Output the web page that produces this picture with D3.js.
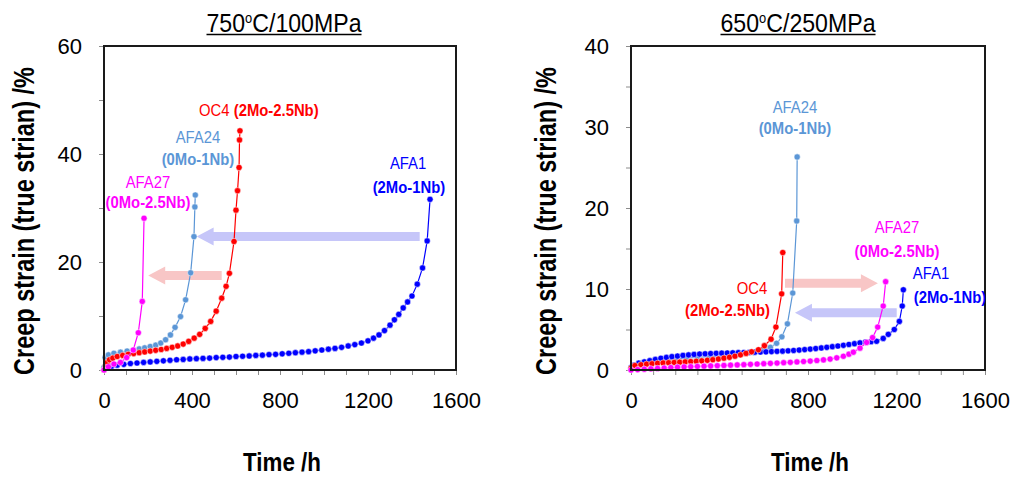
<!DOCTYPE html>
<html>
<head>
<meta charset="utf-8">
<script src="https://cdn.jsdelivr.net/npm/d3@7"></script>
<style>
  body { margin: 0; background: #fff; }
  text { font-family: "Liberation Sans", Arial, sans-serif; }
</style>
</head>
<body>
<svg width="1015" height="479"></svg>
<script>
// tick labels
const timeTicks = [0, 400, 800, 1200, 1600];
const strainTicks750 = [0, 20, 40, 60];
const strainTicks650 = [0, 10, 20, 30, 40];

// ---- 750C / 100MPa (time h, strain %) ----
const t750_AFA1 = [0,15,35,60,90,120,150,180,210,240,270,300,330,360,390,420,450,480,510,540,570,600,630,660,690,720,750,780,810,840,870,900,930,960,990,1020,1050,1080,1110,1140,1170,1200,1225,1250,1275,1300,1320,1340,1360,1380,1400,1424,1448,1469,1482];
const e750_AFA1 = [0.1,0.4,0.7,0.9,1.05,1.2,1.3,1.4,1.5,1.6,1.7,1.8,1.9,1.95,2.05,2.1,2.15,2.2,2.3,2.35,2.4,2.5,2.55,2.6,2.7,2.75,2.85,2.9,3.0,3.1,3.2,3.3,3.4,3.55,3.7,3.85,4.0,4.2,4.45,4.7,5.0,5.4,5.9,6.5,7.3,8.3,9.3,10.3,11.5,12.6,13.7,15.9,18.9,23.9,31.6];

const t750_OC4 = [0,8,15,25,40,60,85,110,135,160,185,210,235,260,285,310,335,360,385,410,435,460,485,510,535,555,570,591,600,607,614,616,618];
const e750_OC4 = [0,0.8,1.4,1.9,2.2,2.5,2.7,2.9,3.05,3.2,3.35,3.5,3.65,3.8,4.0,4.2,4.45,4.8,5.3,5.9,6.6,7.7,9.0,10.9,13.3,15.5,17.9,23.8,29.6,33.2,37.5,42.6,44.3];

const t750_AFA24 = [0,5,20,45,75,105,135,160,185,210,235,258,280,302,323,348,371,394,409,413,415];
const e750_AFA24 = [0.5,2.3,2.8,3.1,3.3,3.5,3.7,3.9,4.1,4.35,4.6,5.0,5.6,6.5,7.9,9.9,13.0,18.0,24.7,30.2,32.4];

const t750_AFA27 = [0,20,45,75,103,133,156,174,182];
const e750_AFA27 = [0,0.6,1.1,1.4,2.3,3.7,6.9,12.7,28.1];

// ---- 650C / 250MPa ----
const t650_AFA1 = [0,15,35,60,85,110,135,160,185,210,235,260,285,310,335,360,385,410,435,460,485,510,535,560,585,610,635,660,685,710,735,760,785,810,835,860,885,910,935,960,985,1010,1035,1060,1085,1110,1140,1163,1190,1213,1226,1231];
const e650_AFA1 = [0.3,0.6,0.85,1.0,1.15,1.3,1.45,1.55,1.65,1.72,1.8,1.86,1.92,1.97,2.0,2.03,2.06,2.08,2.1,2.12,2.14,2.16,2.18,2.2,2.22,2.24,2.27,2.3,2.33,2.37,2.41,2.46,2.52,2.58,2.65,2.72,2.8,2.88,2.96,3.05,3.15,3.25,3.35,3.45,3.5,3.55,3.9,4.4,5.0,6.0,7.9,9.9];

const t650_OC4 = [0,18,45,70,95,120,145,170,195,220,245,270,295,320,345,370,395,420,445,470,495,520,545,576,603,633,655,681,686];
const e650_OC4 = [0.2,0.55,0.65,0.72,0.78,0.83,0.87,0.9,0.93,0.96,1.0,1.04,1.08,1.13,1.2,1.27,1.36,1.46,1.57,1.7,1.87,2.05,2.25,2.5,3.0,3.8,5.3,9.4,14.5];

const t650_AFA24 = [0,30,60,100,150,200,250,300,350,400,450,500,550,600,630,658,682,707,731,749,751];
const e650_AFA24 = [0.1,0.5,0.8,1.0,1.2,1.35,1.45,1.55,1.65,1.75,1.85,2.0,2.2,2.5,2.8,3.3,4.1,5.7,9.5,18.4,26.3];

const t650_AFA27 = [0,30,60,90,120,150,180,210,240,270,300,330,360,390,420,450,480,510,540,570,600,630,660,690,720,750,780,810,840,870,900,930,960,985,1005,1035,1065,1092,1115,1140,1151];
const e650_AFA27 = [0,0.05,0.1,0.15,0.2,0.25,0.3,0.35,0.38,0.41,0.44,0.47,0.5,0.53,0.56,0.6,0.63,0.66,0.7,0.74,0.78,0.82,0.86,0.9,0.95,1.0,1.05,1.1,1.17,1.25,1.35,1.5,1.7,1.95,2.2,2.7,3.4,4.0,5.3,7.9,10.9];

const colors = { AFA1: "#0000ff", OC4: "#ff0000", AFA24: "#5b96d6", AFA27: "#ff00ff" };
const arrowBlue = "#c6c6f9", arrowPink = "#f8c6c6";

const zip = (t, e) => t.map((d, i) => [d, e[i]]);

const svg = d3.select("svg");

function drawPanel(p) {
  const x = d3.scaleLinear().domain([0, 1600]).range([p.left, p.right]);
  const y = d3.scaleLinear().domain([0, p.ymax]).range([370, 46]);
  const g = svg.append("g");

  // axes
  const xAxis = g.append("g")
    .attr("transform", "translate(0,370)")
    .call(d3.axisBottom(x).tickValues(d3.range(0, 1601, 100))
      .tickFormat(d => timeTicks.includes(d) ? d : "")
      .tickSize(5).tickPadding(17));
  const yAxis = g.append("g")
    .attr("transform", `translate(${p.left},0)`)
    .call(d3.axisLeft(y).tickValues(d3.range(0, p.ymax + 1, p.minor))
      .tickFormat(d => p.ticks.includes(d) ? d : "")
      .tickSize(5).tickPadding(17));
  [xAxis, yAxis].forEach(a => {
    a.select(".domain").remove();
    a.selectAll(".tick line").attr("stroke", "#8c8c8c");
    a.selectAll(".tick text").attr("font-size", 22).attr("fill", "#000")
      .style("font-family", "'Liberation Sans', Arial, sans-serif");
  });

  // arrows (behind the curves)
  p.arrows.forEach(a => {
    const x0 = x(a.from), x1 = x(a.to), yy = y(a.s);
    const dir = Math.sign(x1 - x0), hl = 17, sh = 4.5, hh = 9;
    const xb = x1 - dir * hl;
    g.append("polygon")
      .attr("points", [[x0, yy - sh], [xb, yy - sh], [xb, yy - hh], [x1, yy], [xb, yy + hh], [xb, yy + sh], [x0, yy + sh]].join(" "))
      .attr("fill", a.color);
  });

  // series
  const line = d3.line().x(d => x(d[0])).y(d => y(d[1]));
  p.series.forEach(s => {
    g.append("path").datum(s.data)
      .attr("d", line).attr("fill", "none")
      .attr("stroke", colors[s.name]).attr("stroke-width", 1.2);
    g.selectAll(null).data(s.data).enter().append("circle")
      .attr("cx", d => x(d[0])).attr("cy", d => y(d[1])).attr("r", 3.1)
      .attr("fill", colors[s.name]).attr("stroke", "#fff").attr("stroke-width", 0.5);
  });

  // frame
  g.append("rect")
    .attr("x", p.left).attr("y", 46)
    .attr("width", p.right - p.left).attr("height", 324)
    .attr("fill", "none").attr("stroke", "#1a1a1a").attr("stroke-width", 2);

  // curve labels
  p.labels.forEach(l => {
    const t = g.append("text")
      .attr("transform", `translate(${x(l.h)},${y(l.s)}) scale(0.9,1)`)
      .attr("dy", "0.36em")
      .attr("text-anchor", l.anchor || "middle")
      .attr("font-size", 16.5).attr("fill", colors[l.name]);
    l.parts.forEach(pt => t.append("tspan").text(pt[0]).attr("font-weight", pt[1] ? "bold" : "normal"));
  });

  // title
  const cx = (p.left + p.right) / 2 + p.titleShift;
  const tt = g.append("text")
    .attr("transform", `translate(${cx},32) scale(0.925,1)`)
    .attr("text-anchor", "middle").attr("font-size", 25);
  tt.append("tspan").text(p.title[0]);
  tt.append("tspan").text("o").attr("font-size", 14).attr("dy", -9);
  tt.append("tspan").text(p.title[1]).attr("dy", 9);
  g.append("line")
    .attr("x1", cx - 77.5).attr("x2", cx + 77.5).attr("y1", 34.5).attr("y2", 34.5)
    .attr("stroke", "#000").attr("stroke-width", 1.5);

  // axis titles
  g.append("text")
    .attr("transform", `translate(${cx + p.timeShift},471) scale(0.86,1)`)
    .attr("text-anchor", "middle").attr("font-size", 26).attr("font-weight", "bold")
    .text("Time /h");
  g.append("text")
    .attr("transform", `translate(${p.yTitleX},221) rotate(-90) scale(0.81,1)`)
    .attr("text-anchor", "middle").attr("font-size", 29).attr("font-weight", "bold")
    .text("Creep strain (true strian) /%");
}

drawPanel({
  left: 104, right: 456, ymax: 60, minor: 10, ticks: strainTicks750,
  title: ["750", "C/100MPa"], titleShift: 4, timeShift: -2, yTitleX: 34,
  series: [
    { name: "AFA24", data: zip(t750_AFA24, e750_AFA24) },
    { name: "AFA1", data: zip(t750_AFA1, e750_AFA1) },
    { name: "OC4", data: zip(t750_OC4, e750_OC4) },
    { name: "AFA27", data: zip(t750_AFA27, e750_AFA27) }
  ],
  arrows: [
    { from: 1435, to: 421, s: 24.7, color: arrowBlue },
    { from: 535, to: 201, s: 17.5, color: arrowPink }
  ],
  labels: [
    { name: "OC4", h: 432, s: 48.1, anchor: "start", parts: [["OC4 ", false], ["(2Mo-2.5Nb)", true]] },
    { name: "AFA24", h: 427, s: 43.1, parts: [["AFA24", false]] },
    { name: "AFA24", h: 427, s: 39.1, parts: [["(0Mo-1Nb)", true]] },
    { name: "AFA27", h: 200, s: 34.8, parts: [["AFA27", false]] },
    { name: "AFA27", h: 200, s: 31.1, parts: [["(0Mo-2.5Nb)", true]] },
    { name: "AFA1", h: 1382, s: 38.3, parts: [["AFA1", false]] },
    { name: "AFA1", h: 1386, s: 33.9, parts: [["(2Mo-1Nb)", true]] }
  ]
});

drawPanel({
  left: 631, right: 985, ymax: 40, minor: 5, ticks: strainTicks650,
  title: ["650", "C/250MPa"], titleShift: -10, timeShift: 12, yTitleX: 556,
  series: [
    { name: "AFA24", data: zip(t650_AFA24, e650_AFA24) },
    { name: "AFA1", data: zip(t650_AFA1, e650_AFA1) },
    { name: "OC4", data: zip(t650_OC4, e650_OC4) },
    { name: "AFA27", data: zip(t650_AFA27, e650_AFA27) }
  ],
  arrows: [
    { from: 696, to: 1116, s: 10.7, color: arrowPink },
    { from: 1201, to: 741, s: 7.07, color: arrowBlue }
  ],
  labels: [
    { name: "AFA24", h: 741, s: 32.5, parts: [["AFA24", false]] },
    { name: "AFA24", h: 741, s: 29.9, parts: [["(0Mo-1Nb)", true]] },
    { name: "AFA27", h: 1202, s: 17.7, parts: [["AFA27", false]] },
    { name: "AFA27", h: 1202, s: 14.7, parts: [["(0Mo-2.5Nb)", true]] },
    { name: "AFA1", h: 1356, s: 12.0, parts: [["AFA1", false]] },
    { name: "AFA1", h: 1442, s: 9.0, parts: [["(2Mo-1Nb)", true]] },
    { name: "OC4", h: 547, s: 10.1, parts: [["OC4", false]] },
    { name: "OC4", h: 436, s: 7.4, parts: [["(2Mo-2.5Nb)", true]] }
  ]
});
</script>
</body>
</html>
